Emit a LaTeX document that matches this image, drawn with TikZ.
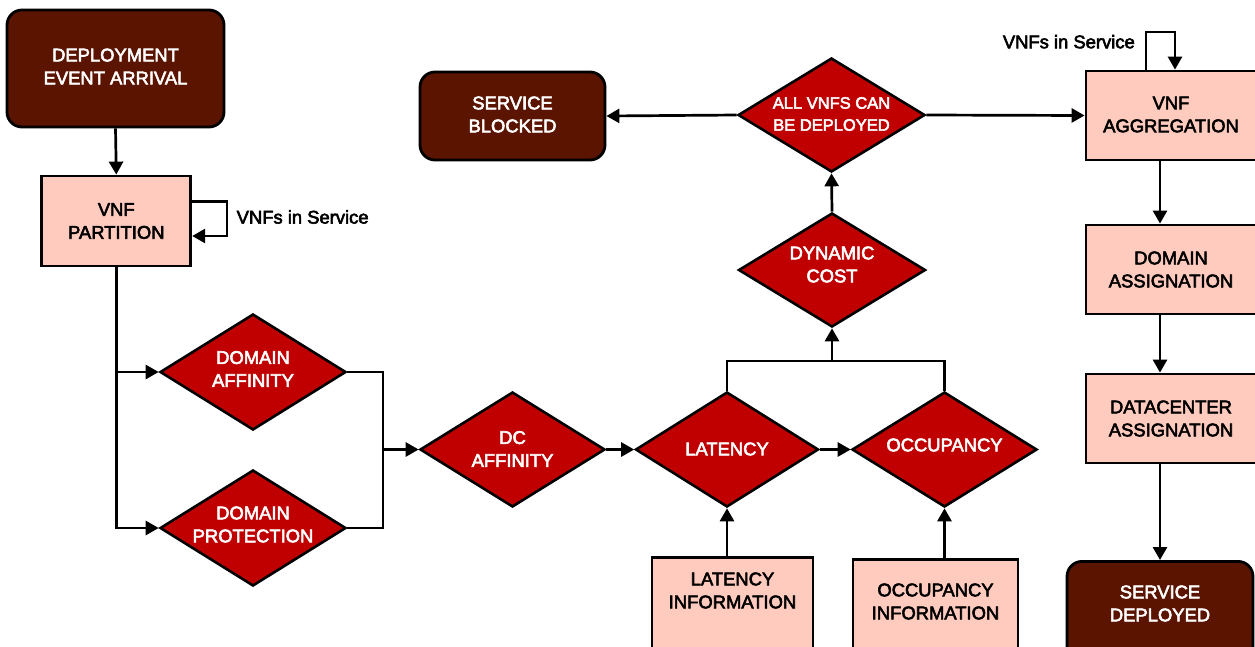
\documentclass[tikz,border=0pt]{standalone}
\usepackage{fontspec}
\setmainfont{Liberation Sans}[BoldFont={Liberation Sans}, BoldFeatures={FakeBold=3}]
\usetikzlibrary{arrows.meta,shapes.geometric}
\definecolor{termfill}{HTML}{5A1400}
\definecolor{testfill}{HTML}{C00000}
\definecolor{procfill}{HTML}{FFCBBE}
\begin{document}
\begin{tikzpicture}[x=1pt,y=-1pt,
  lbl/.style={font=\fontsize{18.4}{23}\selectfont\bfseries, align=center, inner sep=0},
  wlbl/.style={lbl, text=white},
  term/.style={draw=black, line width=2.8pt, fill=termfill, rounded corners=15pt, inner sep=0},
  proc/.style={draw=black, line width=2.8pt, fill=procfill, inner sep=0},
  test/.style={diamond, draw=black, line width=2.6pt, fill=testfill, inner sep=0,
               minimum width=186, minimum height=116},
  wire/.style={line width=2.7pt},
  flow/.style={wire, -{Triangle[length=13pt,width=14pt]}},
]
\useasboundingbox (0,0) rectangle (1255,646);

% terminals
\node[term, minimum width=217, minimum height=117] (start) at (115.5,68.5) {};
\node[wlbl] (start-t) at (115.5,66.5) {DEPLOYMENT\\EVENT ARRIVAL};
\node[term, minimum width=185, minimum height=88] (blocked) at (512.5,116) {};
\node[wlbl] (blocked-t) at (512.5,114.5) {SERVICE\\BLOCKED};
\node[term, minimum width=186, minimum height=100, anchor=north] (done) at (1160,560) {};
\node[wlbl] (done-t) at (1160,603.5) {SERVICE\\DEPLOYED};

% process boxes
\node[proc, minimum width=149, minimum height=90] (part) at (116.3,221) {};
\node[lbl] (part-t) at (116.3,221) {VNF\\PARTITION};
\node[proc, minimum width=170, minimum height=89] (agg) at (1171,115.5) {};
\node[lbl] (agg-t) at (1171,114.5) {VNF\\AGGREGATION};
\node[proc, minimum width=170, minimum height=89] (dom) at (1171,269.5) {};
\node[lbl] (dom-t) at (1171,269.5) {DOMAIN\\ASSIGNATION};
\node[proc, minimum width=170, minimum height=89] (dcas) at (1171,418.5) {};
\node[lbl] (dcas-t) at (1171,418.5) {DATACENTER\\ASSIGNATION};
\node[proc, minimum width=161, minimum height=100, anchor=north] (li) at (732.5,556) {};
\node[lbl] (li-t) at (732.5,590.5) {LATENCY\\INFORMATION};
\node[proc, minimum width=165, minimum height=100, anchor=north] (oi) at (935.5,558) {};
\node[lbl] (oi-t) at (935.5,601.5) {OCCUPANCY\\INFORMATION};

% decisions
\node[test] (da) at (253,372) {};
\node[wlbl] (da-t) at (253,369) {DOMAIN\\AFFINITY};
\node[test] (dp) at (253,528) {};
\node[wlbl] (dp-t) at (253,524.5) {DOMAIN\\PROTECTION};
\node[test, minimum width=185, minimum height=115] (dc) at (512.5,449.5) {};
\node[wlbl] (dc-t) at (512.5,449) {DC\\AFFINITY};
\node[test, minimum width=183, minimum height=115] (lat) at (727,449.5) {};
\node[wlbl] (lat-t) at (727,449) {LATENCY};
\node[test, minimum width=185, minimum height=115] (occ) at (944.5,449.5) {};
\node[wlbl] (occ-t) at (944.5,445) {OCCUPANCY};
\node[test, minimum width=187, minimum height=114] (dyn) at (832,270) {};
\node[wlbl] (dyn-t) at (832,264.5) {DYNAMIC\\COST};
\node[test, minimum width=187, minimum height=114] (all) at (831.5,115) {};
\node[wlbl, font=\fontsize{16.5}{22}\selectfont\bfseries] (all-t) at (831.5,114) {ALL VNFS CAN\\BE DEPLOYED};

% loop labels
\node[lbl, anchor=west] (part-loop) at (236.5,217) {VNFs in Service};
\node[lbl, anchor=east] (agg-loop) at (1135,41.7) {VNFs in Service};

% junction points
\coordinate (pl1) at (227,201.7);
\coordinate (pl2) at (227,236);
\coordinate (mj) at (383,449.5);
\coordinate (tj) at (832,361);
\coordinate (al1) at (1146,32);
\coordinate (al2) at (1175,32);
\coordinate (col) at (1160,0);

% connectors
\draw[flow] (start.south) -- (part.north);
\draw[flow] (part.east |- pl1) -- (pl1) -- (pl2) -- (part.east |- pl2);
\draw[flow] (part.south) |- (dp.west);
\draw[flow] (part.south |- da.west) -- (da.west);
\draw[wire] (da.east) -| (mj);
\draw[wire] (dp.east) -| (mj);
\draw[flow] (mj) -- (dc.west);
\draw[flow] (dc.east) -- (lat.west);
\draw[flow] (lat.east) -- (occ.west);
\draw[wire] (lat.north) |- (tj) -| (occ.north);
\draw[flow] (tj) -- (dyn.south);
\draw[flow] (lat.south |- li.north) -- (lat.south);
\draw[flow] (occ.south |- oi.north) -- (occ.south);
\draw[flow] (dyn.north) -- (all.south);
\draw[flow] (all.west) -- (blocked.east);
\draw[flow] (all.east) -- (agg.west);
\draw[flow] (agg.north -| al1) -- (al1) -- (al2) -- (agg.north -| al2);
\draw[flow] (agg.south -| col) -- (dom.north -| col);
\draw[flow] (dom.south -| col) -- (dcas.north -| col);
\draw[flow] (dcas.south -| col) -- (done.north);
\end{tikzpicture}
\end{document}
